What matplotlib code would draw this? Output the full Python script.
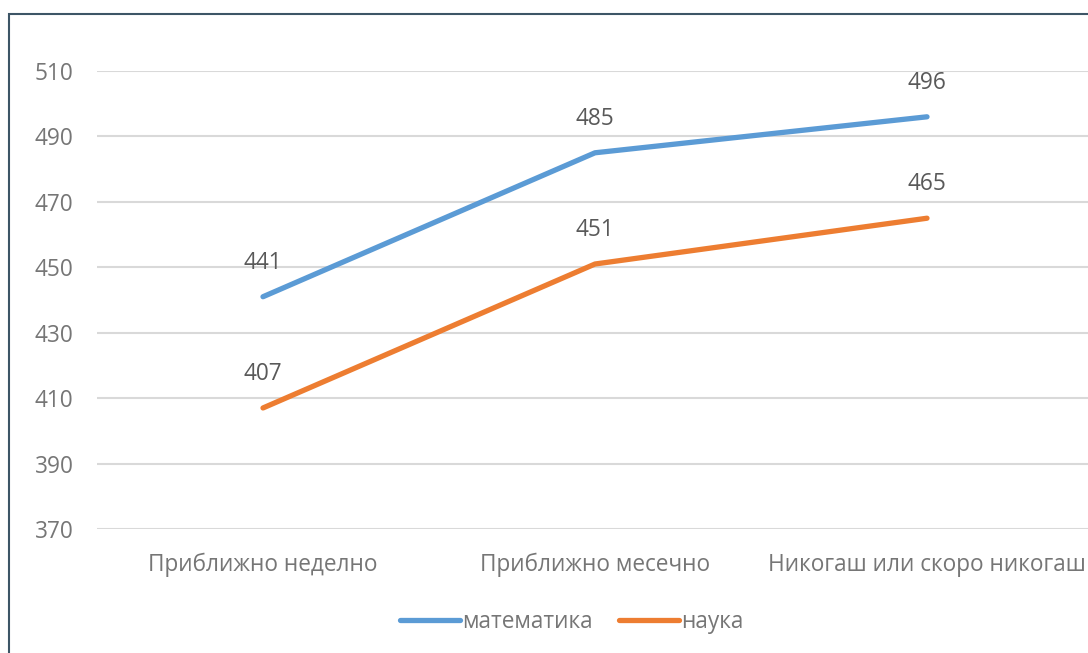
import matplotlib.pyplot as plt
from matplotlib.patches import Rectangle

categories = ["Приближно неделно", "Приближно месечно", "Никогаш или скоро никогаш"]
matematika = [441, 485, 496]
nauka = [407, 451, 465]
y_ticks = [370, 390, 410, 430, 450, 470, 490, 510]

plt.rcParams["font.family"] = ["Open Sans", "DejaVu Sans"]
axis_color = "#767676"
label_color = "#595959"
fs = 16.3

fig = plt.figure(figsize=(10.88, 6.53), dpi=100)
ax = fig.add_axes([97 / 1088, 124 / 653, 996 / 1088, 458 / 653])

x = range(len(categories))
ax.plot(x, matematika, color="#5b9bd5", lw=3.8, solid_capstyle="round", label="математика", zorder=3)
ax.plot(x, nauka, color="#ed7d31", lw=3.8, solid_capstyle="round", label="наука", zorder=3)

for series in (matematika, nauka):
    for i, v in enumerate(series):
        ax.annotate(str(v), (i, v), xytext=(0, 34), textcoords="offset pixels",
                    ha="center", va="center", fontsize=fs, color=label_color)

ax.set_xlim(-0.5, 2.5)
ax.set_ylim(370, 510)
ax.set_yticks(y_ticks)
ax.set_xticks(list(x))
ax.set_xticklabels(categories)
ax.tick_params(length=0, labelsize=fs, labelcolor=axis_color)
ax.tick_params(axis="y", pad=17)
ax.tick_params(axis="x", pad=17)
ax.grid(axis="y", color="#d9d9d9", lw=1.5)
ax.set_axisbelow(True)
for s in ax.spines.values():
    s.set_visible(False)

leg = fig.legend(loc="center", bbox_to_anchor=(572 / 1088, 1 - 622 / 653), ncol=2,
                 frameon=False, fontsize=fs, handlelength=2.65, handletextpad=0.1,
                 columnspacing=1.15)
for t in leg.get_texts():
    t.set_color(axis_color)

# chart area outline
fig.add_artist(Rectangle((9 / 1088, -0.2), 1.2, 1.2 - 14 / 653, transform=fig.transFigure,
                         fill=False, edgecolor="#3d5566", lw=1.5))

fig.savefig("out.png", dpi=100)
